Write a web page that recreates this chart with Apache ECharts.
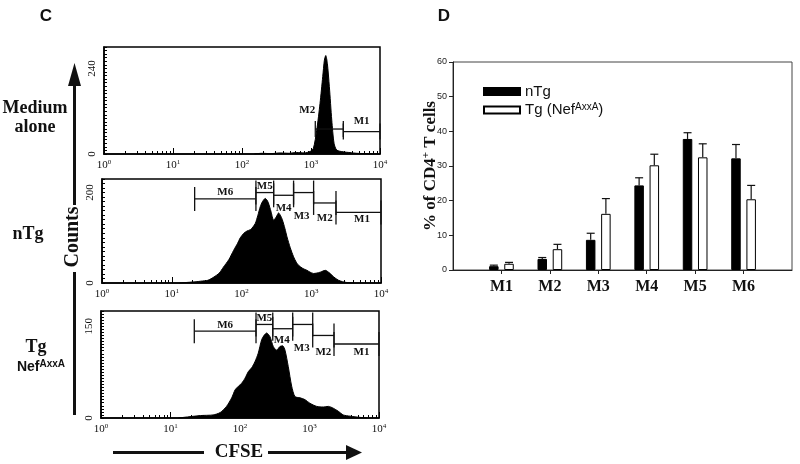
<!DOCTYPE html>
<html><head><meta charset="utf-8">
<script src="https://cdn.jsdelivr.net/npm/echarts@6/dist/echarts.min.js"></script>
<style>html,body{margin:0;padding:0;background:#fff}#c{width:800px;height:464px}</style>
</head><body><div id="c"></div>
<script>
// ---------------- DATA ----------------
// Panel C: CFSE histograms, [CFSE intensity, count]
const mediumAlone = [[150,0],[195,2],[260,1],[357,3],[480,2],[619,4],[800,3],[970,7],[1084,16],[1211,67],[1352,142],[1479,217],[1563,263],[1636,276],[1726,254],[1845,189],[2000,95],[2158,30],[2360,11],[2940,6],[3672,4],[4580,2],[6400,1],[10000,0]];
const nTgHist = [[13,0],[23,3],[26,4],[33,6],[40,13],[48,22],[55,35],[66,52],[77,72],[88,88],[96,100],[108,110],[120,115],[134,118],[146,124],[158,132],[172,150],[186,169],[200,180],[219,187],[230,184],[242,178],[265,158],[289,139],[315,146],[340,155],[360,150],[385,140],[420,120],[449,102],[500,78],[558,58],[610,46],[659,39],[760,32],[869,28],[960,24],[1081,21],[1200,22],[1349,24],[1590,28],[1800,23],[1983,17],[2200,11],[2465,6],[2800,3],[3258,1],[4000,0]];
const tgHist = [[13,0],[27,4],[41,5],[52,9],[64,19],[76,33],[85,46],[95,52],[106,57],[118,65],[132,76],[147,82],[164,92],[183,106],[205,128],[225,136],[242,139],[270,133],[301,117],[337,111],[376,117],[411,118],[444,111],[495,84],[554,52],[618,35],[730,33],[861,30],[1016,24],[1270,19],[1580,18],[1866,19],[2199,16],[2596,11],[3063,5],[3828,3],[5331,1],[6653,0]];
// gates: [name, start, end, level(count)]
const gatesMedium = [['M2',1154,2940,70],['M1',2940,10000,63]];
const gatesNTg = [['M6',21.3,161,186],['M5',161,289,200],['M4',289,558,194],['M3',558,1081,200],['M2',1081,2263,177],['M1',2263,10000,156]];
const gatesTg = [['M6',22,170,142],['M5',170,296,153],['M4',296,573,146],['M3',573,1112,153],['M2',1112,2252,135],['M1',2252,10000,121]];
const countLabels = [[0,240],[0,200],[0,150]];
const countMax = [300,230,175];

// Panel D: % of CD4+ T cells
const categories = ['M1','M2','M3','M4','M5','M6'];
const nTgVals = [1.1, 3.2, 8.7, 24.4, 37.8, 32.2];
const nTgErr  = [0.3, 0.4, 1.9, 2.2, 1.8, 4.0];
const tgVals  = [1.8, 6.0, 16.2, 30.2, 32.5, 20.4];
const tgErr   = [0.4, 1.4, 4.4, 3.2, 3.9, 4.0];
const yTicksD = [0, 60, 10];

// ---------------- STYLE ----------------
const SERIF = '"Liberation Serif", "DejaVu Serif", serif';
const SANS = '"Liberation Sans", Arial, sans-serif';
const gateLabelOffsets = [
  [[-22,-19],[0,-10]],
  [[0,-7],[0,-6],[0,12.5],[-2,23.5],[0,15.5],[3.5,7]],
  [[0,-6.5],[0,-6],[-1,11],[-1,24],[0,17],[5,8]]
];
const gateHalf = [8,12,12];
const grids = [
  {left:104, top:47, width:276, height:107},
  {left:102, top:179, width:279, height:104},
  {left:101, top:311, width:278, height:107}
];

const chart = echarts.init(document.getElementById('c'), null, {renderer:'canvas'});

function histX(i){
  return {type:'log', logBase:10, min:1, max:10000, gridIndex:i,
    axisLine:{lineStyle:{color:'#000', width:1.5}},
    axisTick:{inside:true, length:6, lineStyle:{color:'#000', width:1}},
    minorTick:{show:true, splitNumber:9, length:3, lineStyle:{color:'#000', width:1}},
    splitLine:{show:false}, minorSplitLine:{show:false},
    axisLabel:{margin:5, color:'#111',
      formatter: v => '{a|10}{b|' + Math.round(Math.log10(v)) + '}',
      rich:{a:{fontFamily:SERIF, fontSize:11, color:'#111'}, b:{fontFamily:SERIF, fontSize:7, color:'#111', padding:[0,0,6,0]}}}
  };
}
function histY(i){
  const labs = countLabels[i];
  return {type:'value', min:0, max:countMax[i], interval: i===2?5:10, gridIndex:i,
    axisLine:{show:true, lineStyle:{color:'#000', width:1.5}},
    axisTick:{show:true, inside:true, length:3, lineStyle:{color:'#000', width:1}},
    splitLine:{show:false},
    axisLabel:{rotate:90, margin:6, fontFamily:SERIF, fontSize:11, color:'#111',
      formatter: v => labs.indexOf(v) >= 0 ? String(v) : ''}
  };
}
function histSeries(data, i){
  return {type:'line', xAxisIndex:i, yAxisIndex:i, data:data, showSymbol:false, smooth:0.25,
    lineStyle:{color:'#000', width:1}, areaStyle:{color:'#000', opacity:1}, silent:true, z:2};
}
function gateSeries(gates, i){
  const offs = gateLabelOffsets[i], half = gateHalf[i];
  return {type:'custom', xAxisIndex:i, yAxisIndex:i, silent:true, z:5, clip:false,
    data: gates.map(g => [g[1], g[2], g[3]]),
    renderItem: (params, api) => {
      const k = params.dataIndex;
      const p0 = api.coord([api.value(0), api.value(2)]);
      const p1 = api.coord([api.value(1), api.value(2)]);
      const st = {stroke:'#111', lineWidth:1.3};
      return {type:'group', children:[
        {type:'line', shape:{x1:p0[0],y1:p0[1],x2:p1[0],y2:p1[1]}, style:st},
        {type:'line', shape:{x1:p0[0],y1:p0[1]-half,x2:p0[0],y2:p0[1]+half}, style:st},
        {type:'line', shape:{x1:p1[0],y1:p1[1]-half,x2:p1[0],y2:p1[1]+half}, style:st},
        {type:'text', style:{text:gates[k][0], x:(p0[0]+p1[0])/2+offs[k][0], y:p0[1]+offs[k][1],
          align:'center', verticalAlign:'middle', font:'bold 11px ' + SERIF, fill:'#111'}}
      ]};
    }};
}

const padCats = [''].concat(categories, ['']);
const pad = arr => [null].concat(arr, [null]);
const BW = 9.5, GAP = 5.7;
function errSeries(vals, errs, sign){
  return {type:'custom', xAxisIndex:3, yAxisIndex:3, silent:true, z:4,
    data: vals.map((v,i) => [i+1, v, errs[i]]),
    renderItem: (params, api) => {
      const base = api.coord([api.value(0), api.value(1)]);
      const top = api.coord([api.value(0), api.value(1) + api.value(2)]);
      const x = base[0] + sign*(BW+GAP)/2;
      const st = {stroke:'#111', lineWidth:1.2};
      return {type:'group', children:[
        {type:'line', shape:{x1:x, y1:base[1], x2:x, y2:top[1]}, style:st},
        {type:'line', shape:{x1:x-4, y1:top[1], x2:x+4, y2:top[1]}, style:st}
      ]};
    }};
}

const option = {
  animation:false,
  backgroundColor:'#fff',
  grid: grids.map(g => Object.assign({show:true, borderColor:'#000', borderWidth:1.5, backgroundColor:'transparent'}, g))
    .concat([{left:453, top:62, width:339, height:208, show:true, borderColor:'#444', borderWidth:1}]),
  xAxis: [histX(0), histX(1), histX(2), {
    type:'category', gridIndex:3, data:padCats, boundaryGap:false,
    axisLine:{lineStyle:{color:'#222', width:1}},
    axisTick:{length:4, interval:(i) => i>0 && i<padCats.length-1, lineStyle:{color:'#222'}},
    axisLabel:{interval:0, margin:9, fontFamily:SERIF, fontWeight:'bold', fontSize:16, color:'#111'}
  }],
  yAxis: [histY(0), histY(1), histY(2), {
    type:'value', gridIndex:3, min:yTicksD[0], max:yTicksD[1], interval:yTicksD[2],
    axisLine:{show:true, lineStyle:{color:'#222', width:1}},
    axisTick:{show:true, length:4, lineStyle:{color:'#222'}},
    splitLine:{show:false},
    axisLabel:{fontFamily:SANS, fontSize:9, color:'#222', margin:6},
    name:'% of CD4{s|+} T cells', nameLocation:'middle', nameGap:13, nameRotate:90, nameMoveOverlap:false,
    nameTextStyle:{fontFamily:SERIF, fontWeight:'bold', fontSize:17, color:'#111',
      rich:{s:{fontFamily:SERIF, fontWeight:'bold', fontSize:11, color:'#111', padding:[0,0,8,0]}}}
  }],
  legend:{left:478, top:79, orient:'vertical', itemWidth:36, itemHeight:7, itemGap:3, icon:'rect',
    selectedMode:false,
    data:['nTg','Tg (NefAxxA)'],
    formatter: n => n === 'nTg' ? 'nTg' : 'Tg (Nef{s|AxxA})',
    textStyle:{fontFamily:SANS, fontSize:15, color:'#111', lineHeight:15,
      rich:{s:{fontFamily:SANS, fontSize:10, color:'#111', padding:[0,0,6,0]}}}},
  series: [
    histSeries(mediumAlone,0), histSeries(nTgHist,1), histSeries(tgHist,2),
    gateSeries(gatesMedium,0), gateSeries(gatesNTg,1), gateSeries(gatesTg,2),
    {name:'nTg', type:'bar', xAxisIndex:3, yAxisIndex:3, data:pad(nTgVals), barWidth:BW, barGap:(GAP/BW*100)+'%',
      itemStyle:{color:'#000', borderColor:'#000', borderWidth:1}},
    {name:'Tg (NefAxxA)', type:'bar', xAxisIndex:3, yAxisIndex:3, data:pad(tgVals), barWidth:BW,
      itemStyle:{color:'#fff', borderColor:'#000', borderWidth:1}},
    errSeries(nTgVals, nTgErr, -1), errSeries(tgVals, tgErr, 1)
  ],
  graphic: [
    {type:'text', x:46, y:16, style:{text:'C', font:'bold 17px ' + SANS, fill:'#111', align:'center', verticalAlign:'middle'}},
    {type:'text', x:444, y:16, style:{text:'D', font:'bold 17px ' + SANS, fill:'#111', align:'center', verticalAlign:'middle'}},
    {type:'text', x:35, y:108, style:{text:'Medium', font:'bold 18px ' + SERIF, fill:'#111', align:'center', verticalAlign:'middle'}},
    {type:'text', x:35, y:127, style:{text:'alone', font:'bold 18px ' + SERIF, fill:'#111', align:'center', verticalAlign:'middle'}},
    {type:'text', x:28, y:234, style:{text:'nTg', font:'bold 18px ' + SERIF, fill:'#111', align:'center', verticalAlign:'middle'}},
    {type:'text', x:36, y:347, style:{text:'Tg', font:'bold 18px ' + SERIF, fill:'#111', align:'center', verticalAlign:'middle'}},
    {type:'text', x:41, y:367, style:{text:'{n|Nef}{s|AxxA}', align:'center', verticalAlign:'middle',
      rich:{n:{font:'bold 14px ' + SANS, fill:'#111'}, s:{font:'bold 10px ' + SANS, fill:'#111', padding:[0,0,6,0]}}}},
    {type:'text', x:73, y:237, rotation:Math.PI/2, style:{text:'Counts', font:'bold 20px ' + SERIF, fill:'#111', align:'center', verticalAlign:'middle'}},
    {type:'line', shape:{x1:74.5, y1:84, x2:74.5, y2:205}, style:{stroke:'#111', lineWidth:3}},
    {type:'line', shape:{x1:74.5, y1:272, x2:74.5, y2:415}, style:{stroke:'#111', lineWidth:3}},
    {type:'polygon', shape:{points:[[74.5,63],[68,86],[81,86]]}, style:{fill:'#111'}},
    {type:'text', x:239, y:452, style:{text:'CFSE', font:'bold 19px ' + SERIF, fill:'#111', align:'center', verticalAlign:'middle'}},
    {type:'line', shape:{x1:113, y1:452.5, x2:204, y2:452.5}, style:{stroke:'#111', lineWidth:3}},
    {type:'line', shape:{x1:268, y1:452.5, x2:350, y2:452.5}, style:{stroke:'#111', lineWidth:3}},
    {type:'polygon', shape:{points:[[362,452.5],[346,445],[346,460]]}, style:{fill:'#111'}}
  ]
};
chart.setOption(option);
</script>
</body></html>
